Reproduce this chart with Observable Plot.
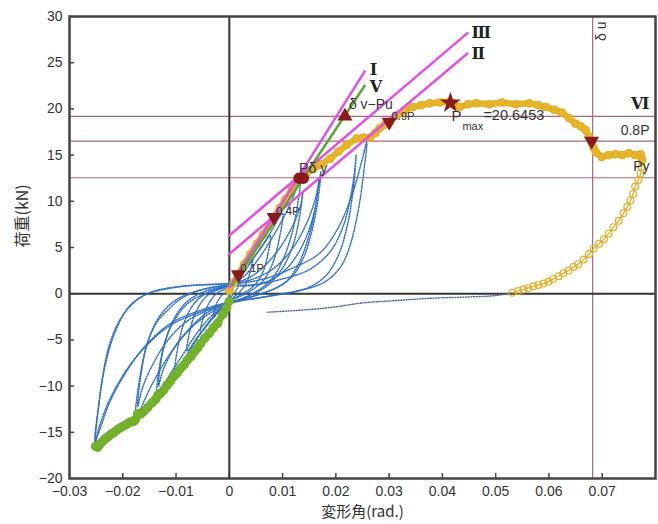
<!DOCTYPE html>
<html><head><meta charset="utf-8">
<script src="https://cdn.jsdelivr.net/npm/d3@7"></script>
<script src="https://cdn.jsdelivr.net/npm/@observablehq/plot@0.6"></script>
<style>body{margin:0;background:#fff} #chart{width:658px;height:524px}</style>
</head><body><div id="chart"></div><script>
// ---------- data ----------
const xTicks = [-0.03,-0.02,-0.01,0,0.01,0.02,0.03,0.04,0.05,0.06,0.07];
const yTicks = [-20,-15,-10,-5,0,5,10,15,20,25,30];

// cyclic hysteresis loops (blue dotted)
const loops = [
 [[0,0.3],[0.0011,1.3],[0.0022,2.3],[0.0019,1.2],[0.0011,0.2],[0,-0.5],[-0.0015,-1.5],[-0.003,-2.6],[-0.0026,-1.4],[-0.0016,-0.3],[0,0.4]],
 [[0,0.5],[0.0015,1.7],[0.003,3.0],[0.0045,4.5],[0.0041,2.8],[0.0032,1.2],[0.0018,0.1],[0,-0.7],[-0.0018,-1.7],[-0.0036,-2.9],[-0.0054,-4.2],[-0.0049,-2.6],[-0.0038,-1.0],[-0.0022,0.1],[0,0.6]],
 [[0,0.6],[0.002,2.0],[0.004,3.5],[0.006,5.0],[0.0077,6.3],[0.0072,4.2],[0.0062,2.2],[0.0045,0.8],[0.0022,-0.1],[0,-0.8],[-0.002,-1.9],[-0.004,-3.3],[-0.006,-4.7],[-0.0079,-6.2],[-0.0074,-4.0],[-0.0063,-2.0],[-0.0045,-0.4],[-0.0022,0.4],[0,0.7]],
 [[0,0.8],[0.0025,2.2],[0.005,4.2],[0.0075,6.4],[0.01,8.7],[0.0094,6.0],[0.0082,3.4],[0.0065,1.5],[0.004,0.3],[0,-0.9],[-0.0025,-2.2],[-0.005,-4.0],[-0.0075,-6.2],[-0.0101,-8.3],[-0.0096,-5.6],[-0.0084,-3.0],[-0.0065,-1.0],[-0.0038,0.2],[0,0.8]],
 [[0,0.8],[0.003,2.0],[0.006,4.2],[0.009,7.0],[0.0115,9.8],[0.0133,12.3],[0.0127,9.2],[0.0116,6.2],[0.01,3.6],[0.008,1.6],[0.0055,0.4],[0.002,-0.6],[0,-1.0],[-0.003,-2.2],[-0.006,-4.2],[-0.0085,-6.4],[-0.011,-8.6],[-0.0135,-11.0],[-0.0129,-7.2],[-0.011,-3.6],[-0.0079,-1.1],[-0.0041,0.1],[0,0.9]],
 [[0,0.9],[0.0045,2.0],[0.0085,4.2],[0.0115,6.9],[0.0133,9.4],[0.0138,11.0],[0.0131,8.0],[0.0118,5.0],[0.0098,2.6],[0.007,0.8],[0.0035,-0.3],[0,-1.0],[-0.004,-2.0],[-0.0075,-3.8],[-0.0105,-6.0],[-0.0125,-8.4],[-0.0133,-10.0],[-0.0126,-6.6],[-0.0108,-3.2],[-0.0082,-1.0],[-0.0048,0.2],[0,0.9]],
 [[0,1.0],[0.004,1.5],[0.008,2.6],[0.0115,4.6],[0.0145,7.6],[0.0163,10.6],[0.0172,13.2],[0.0166,10.0],[0.0155,6.8],[0.014,4.0],[0.012,2.0],[0.009,0.7],[0.005,-0.2],[0.001,-0.9],[-0.003,-1.9],[-0.007,-3.6],[-0.011,-6.4],[-0.0145,-9.8],[-0.0175,-13.2],[-0.0168,-9.1],[-0.0153,-5.2],[-0.0135,-3.0],[-0.0116,-1.8],[-0.0095,-0.7],[-0.0073,0.0],[-0.004,0.6],[0,0.9]],
 [[0,0.9],[0.0045,0.9],[0.0085,1.7],[0.0115,3.2],[0.0142,5.8],[0.016,9.0],[0.0168,12.2],[0.016,8.8],[0.0146,5.6],[0.0128,3.0],[0.0105,1.2],[0.007,0.2],[0.003,-0.5],[0,-1.0],[-0.004,-1.8],[-0.008,-3.0],[-0.0115,-5.0],[-0.0145,-7.8],[-0.0163,-10.2],[-0.0172,-12.2],[-0.0166,-8.8],[-0.0152,-5.0],[-0.0128,-2.2],[-0.0098,-0.6],[-0.006,0.3],[-0.002,0.8],[0,0.9]],
 [[0,1.0],[0.004,1.3],[0.0077,1.8],[0.012,2.8],[0.017,4.4],[0.0205,7.2],[0.0232,11.0],[0.0248,14.2],[0.0258,16.4],[0.0252,13.0],[0.0242,9.0],[0.0228,5.5],[0.021,3.0],[0.018,1.3],[0.013,0.3],[0.007,-0.3],[0.002,-0.8],[-0.002,-1.3],[-0.006,-2.1],[-0.011,-3.4],[-0.015,-5.3],[-0.019,-8.0],[-0.0225,-11.5],[-0.0245,-14.6],[-0.0252,-16.3],[-0.0247,-13.0],[-0.0238,-9.0],[-0.0225,-5.5],[-0.0205,-2.8],[-0.018,-1.0],[-0.0153,0.0],[-0.011,0.6],[-0.0067,0.9],[-0.002,1.0],[0.002,1.1]],
 [[0,0.9],[0.005,1.0],[0.01,1.6],[0.015,2.6],[0.019,4.6],[0.0215,7.5],[0.0228,10.6],[0.0235,13.2],[0.0238,15.0],[0.0233,11.5],[0.0222,7.5],[0.0205,4.2],[0.0182,2.0],[0.015,0.7],[0.01,0.0],[0.005,-0.5],[0,-0.9],[-0.0054,-1.8],[-0.011,-3.2],[-0.016,-5.8],[-0.0195,-8.6],[-0.0225,-11.8],[-0.0245,-15.0],[-0.0252,-15.9],[-0.0245,-12.0],[-0.0232,-7.5],[-0.0212,-3.8],[-0.0185,-1.2],[-0.0145,0.2],[-0.009,0.8],[-0.004,1.0],[0,1.1]]
];
const tail = [[0.0531,0.1],[0.05,-0.2],[0.045,-0.35],[0.0376,-0.5],[0.031,-0.75],[0.025,-1.0],[0.0189,-1.5],[0.013,-1.8],[0.0071,-2.0]];

// negative envelope (green)
const negEnv = [[0,-0.8],[-0.0006,-1.6],[-0.0012,-2.2],[-0.0022,-3.2],[-0.003,-3.7],[-0.0038,-4.3],[-0.0046,-4.8],[-0.0054,-5.4],[-0.006,-5.9],[-0.0066,-6.3],[-0.0072,-6.8],[-0.0079,-7.2],[-0.0085,-7.7],[-0.0092,-8.1],[-0.0098,-8.6],[-0.0105,-9.0],[-0.0111,-9.5],[-0.0117,-9.9],[-0.0123,-10.4],[-0.0129,-10.8],[-0.0134,-11.0],[-0.0138,-11.4],[-0.0145,-11.8],[-0.0153,-12.3],[-0.016,-12.7],[-0.0166,-13.0],[-0.0172,-13.0],[-0.0176,-13.6],[-0.0179,-13.8],[-0.0186,-13.9],[-0.0192,-14.1],[-0.0198,-14.3],[-0.0204,-14.5],[-0.021,-14.7],[-0.0216,-15.0],[-0.0222,-15.2],[-0.0228,-15.5],[-0.0233,-15.7],[-0.0238,-16.0],[-0.0243,-16.3],[-0.0247,-16.6],[-0.0251,-16.5]];

// positive envelope (yellow)
const posEnv = [[0,0.3],[0.0008,1.2],[0.0017,2.1],[0.0028,3.2],[0.004,4.3],[0.0052,5.4],[0.0063,6.4],[0.0074,7.3],[0.0084,8.3],[0.0095,9.3],[0.0105,10.2],[0.0118,11.4],[0.0131,12.6],[0.0144,13.0],[0.0157,13.5],[0.0172,14.0],[0.0189,14.6],[0.0205,15.4],[0.022,16.1],[0.0239,16.8],[0.0252,16.9],[0.0264,16.9],[0.0274,17.4],[0.0282,17.9],[0.0292,18.3],[0.0301,18.6],[0.0314,19.3],[0.0328,19.8],[0.0344,20.2],[0.036,20.4],[0.0376,20.6],[0.0395,20.7],[0.0415,20.8],[0.0423,20.4],[0.0432,20.2],[0.0448,20.5],[0.0464,20.6],[0.0488,20.5],[0.0512,20.7],[0.0538,20.5],[0.0563,20.6],[0.058,20.4],[0.0594,20.2],[0.061,19.9],[0.0624,19.6],[0.0638,19.0],[0.065,18.4],[0.066,18.1],[0.0669,17.7],[0.0675,17.0],[0.068,16.4],[0.0684,15.8],[0.0688,15.3],[0.0699,14.8],[0.0712,15.0],[0.0725,15.1],[0.0738,15.0],[0.075,15.2],[0.0762,15.0],[0.0772,15.1],[0.0774,14.6]];

// final unloading (hollow circles)
const unload = [[0.0775,14.4],[0.0774,13.7],[0.0772,13.0],[0.0768,12.3],[0.0762,11.6],[0.0758,10.8],[0.0753,10.1],[0.0747,9.4],[0.074,8.7],[0.0731,7.9],[0.0721,7.2],[0.0712,6.5],[0.0703,5.9],[0.0694,5.4],[0.0684,4.9],[0.0675,4.3],[0.0665,3.7],[0.0655,3.2],[0.0646,2.9],[0.0637,2.5],[0.0627,2.2],[0.0618,1.9],[0.0608,1.6],[0.0599,1.3],[0.059,1.1],[0.058,0.95],[0.0571,0.8],[0.0561,0.6],[0.0552,0.45],[0.0542,0.3],[0.0531,0.1]];

// evaluation lines
const lineI   = [[0,0.7],[0.0254,24.06]];
const lineII  = [[0,4.3],[0.0447,26.0]];
const lineIII = [[0,6.3],[0.0447,28.2]];
const lineV   = [[0.0005,0.9],[0.0254,22.5]];
const refY = [19.2, 16.52, 12.55];
const refYLabels = ["Ⅵ", "0.8P", "Py"];
const deltaU = 0.0682;
const Pmax = 20.6453;
const downMarks = [[0.0017,2.06],[0.0084,8.26],[0.030,18.58],[0.068,16.52]];
const downLabels = ["0.1P","0.4P","0.9P",""];
const dvPu = [0.0217,19.2];
const pmaxPt = [0.0415,20.65];
const yieldPts = [[0.0131,12.5],[0.0139,12.5]];

// ---------- build ----------
const P = a => a.map(([x,y]) => ({x,y}));
const loopRows = loops.flatMap((pts,i) => pts.map(([x,y]) => ({x,y,loop:i})));
const fmtX = d => d === 0 ? "0" : d3.format(".2f")(d);
const fmtY = d => d3.format("d")(d);
const roman = {fontFamily:"DejaVu Serif, serif", fontSize:16, fontWeight:"bold", fill:"#222"};
const dark = "#8b1a1a";

const chart = Plot.plot({
  width:658, height:524,
  marginLeft:69, marginRight:3, marginTop:16, marginBottom:46,
  x:{domain:[-0.03,0.08]},
  y:{domain:[-20,30]},
  style:{fontFamily:"Liberation Sans, Arial, sans-serif", fontSize:"14px", color:"#333", background:"#fff"},
  marks:[
    Plot.axisX({ticks:xTicks, tickSize:0, tickPadding:8, tickFormat:fmtX, label:null, fontSize:14}),
    Plot.axisY({ticks:yTicks, tickSize:0, tickPadding:7, tickFormat:fmtY, label:null, fontSize:14}),
    Plot.tickX(xTicks, {x:d=>d, insetTop:457, stroke:"#444", strokeWidth:1.5}),
    Plot.tickY(yTicks, {y:d=>d, insetRight:581, stroke:"#444", strokeWidth:1.5}),
    Plot.ruleY(refY, {stroke:"#a5687e", strokeWidth:1.2}),
    Plot.ruleX([deltaU], {stroke:"#a5687e", strokeWidth:1.2}),
    Plot.ruleX([0], {stroke:"#333", strokeWidth:2}),
    Plot.ruleY([0], {stroke:"#333", strokeWidth:2}),
    Plot.line(loopRows, {x:"x", y:"y", z:"loop", stroke:"#2f70c4", strokeWidth:1.5, strokeDasharray:"1.1,1.6", curve:"catmull-rom"}),
    Plot.line(P(tail), {x:"x", y:"y", stroke:"#4a6a9e", strokeWidth:1.4, strokeDasharray:"1.1,1.6", curve:"catmull-rom"}),
    Plot.line(P(negEnv), {x:"x", y:"y", stroke:"#76b42c", strokeWidth:7}),
    Plot.dot(P(negEnv), {x:"x", y:"y", r:4.4, fill:"#76b42c", stroke:"#6aa626", strokeWidth:0.8}),
    Plot.line(P(posEnv), {x:"x", y:"y", stroke:"#e7b52a", strokeWidth:6.5}),
    Plot.dot(P(posEnv), {x:"x", y:"y", r:4, fill:"#e7b52a", stroke:"#dcaa22", strokeWidth:0.8}),
    Plot.line(P(unload), {x:"x", y:"y", stroke:"#e2b22a", strokeWidth:1.3, curve:"catmull-rom"}),
    Plot.dot(P(unload), {x:"x", y:"y", r:3.4, fill:"none", stroke:"#dfae28", strokeWidth:1.2}),
    Plot.line(P(lineIII), {x:"x", y:"y", stroke:"#e052e0", strokeWidth:2.5}),
    Plot.line(P(lineII), {x:"x", y:"y", stroke:"#e052e0", strokeWidth:2.5}),
    Plot.line(P(lineI), {x:"x", y:"y", stroke:"#e052e0", strokeWidth:2.5}),
    Plot.line(P(lineV), {x:"x", y:"y", stroke:"#5aa832", strokeWidth:2.5}),
    Plot.frame({stroke:"#444", strokeWidth:2.5}),
    // labels of evaluation lines
    Plot.text([lineI[1]], {x:d=>d[0], y:d=>d[1], text:()=>"Ⅰ", ...roman, textAnchor:"start", dx:5, dy:-2}),
    Plot.text([lineV[1]], {x:d=>d[0], y:d=>d[1], text:()=>"Ⅴ", ...roman, textAnchor:"start", dx:5, dy:1}),
    Plot.text([lineIII[1]], {x:d=>d[0], y:d=>d[1], text:()=>"Ⅲ", ...roman, textAnchor:"start", dx:4, dy:0}),
    Plot.text([lineII[1]], {x:d=>d[0], y:d=>d[1], text:()=>"Ⅱ", ...roman, textAnchor:"start", dx:4, dy:0}),
    // right-side labels of horizontal lines
    Plot.text([refY[0]], {x:()=>0.08, y:d=>d, text:()=>refYLabels[0], textAnchor:"end", dx:-6, dy:-12, ...roman}),
    Plot.text(refY.slice(1), {x:()=>0.08, y:d=>d, text:(d,i)=>refYLabels[i+1], textAnchor:"end", dx:-6, dy:-11, fontSize:14, fill:"#333"}),
    Plot.text(["δ u"], {x:()=>deltaU, y:()=>30, text:d=>d, rotate:-90, textAnchor:"end", dx:9, dy:5, fontSize:14, fill:"#333"}),
    // markers
    Plot.dot(yieldPts, {x:d=>d[0], y:d=>d[1], r:5, fill:dark, stroke:dark}),
    Plot.dot(downMarks, {x:d=>d[0], y:d=>d[1], symbol:"triangle", rotate:180, r:4.6, fill:dark, stroke:dark}),
    Plot.dot([dvPu], {x:d=>d[0], y:d=>d[1], symbol:"triangle", r:4.6, fill:dark, stroke:dark}),
    Plot.dot([pmaxPt], {x:d=>d[0], y:d=>d[1], symbol:"star", r:5.2, fill:dark, stroke:dark}),
    // marker labels
    Plot.text(downMarks.slice(0,3), {x:d=>d[0], y:d=>d[1], text:(d,i)=>downLabels[i], textAnchor:"start", dx:2, dy:-6, fontSize:11.5, fill:"#333"}),
    Plot.text([yieldPts[0]], {x:d=>d[0], y:d=>d[1], text:()=>"Pδ y", textAnchor:"start", dx:0, dy:-10, fontSize:14, fill:"#333"}),
    Plot.text([dvPu], {x:d=>d[0], y:d=>d[1], text:()=>"δ v−Pu", textAnchor:"start", dx:4, dy:-12, fontSize:14, fill:"#333"}),
    Plot.text([pmaxPt], {x:d=>d[0], y:d=>d[1], text:()=>"P", textAnchor:"start", dx:1, dy:13, fontSize:15, fill:"#333"}),
    Plot.text([pmaxPt], {x:d=>d[0], y:d=>d[1], text:()=>"max", textAnchor:"start", dx:12, dy:24, fontSize:11, fill:"#333"}),
    Plot.text([pmaxPt], {x:d=>d[0], y:d=>d[1], text:()=>"=" + Pmax, textAnchor:"start", dx:33, dy:12, fontSize:14.5, fill:"#333"}),
    // axis titles
    Plot.text(["荷重(kN)"], {frameAnchor:"left", text:d=>d, rotate:-90, dx:-47, fontFamily:"Noto Sans CJK JP", fontSize:16, fill:"#333"}),
    Plot.text(["変形角(rad.)"], {frameAnchor:"bottom", text:d=>d, dy:38, fontFamily:"Noto Sans CJK JP", fontSize:15, fill:"#333"})
  ]
});
document.getElementById("chart").append(chart);
</script></body></html>
